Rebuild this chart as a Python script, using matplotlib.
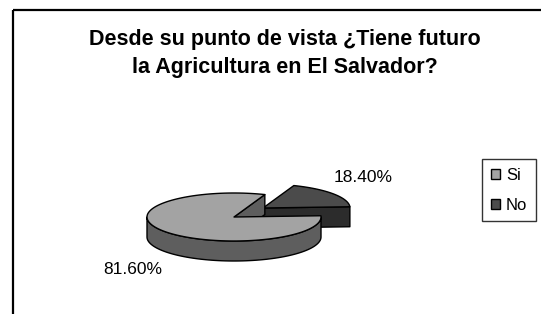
import numpy as np
import matplotlib.pyplot as plt
from matplotlib.patches import Polygon, Rectangle, Patch

plt.rcParams['font.family'] = ['Liberation Sans', 'DejaVu Sans']

labels = ['Si', 'No']
values = [81.6, 18.4]
pct_text = ['81.60%', '18.40%']
top_colors = ['#a3a3a3', '#4b4b4b']
side_colors = ['#5e5e5e', '#2c2c2c']

# pie geometry in pixels (y axis points down)
cx, cy = 234, 217
rx, ry = 87, 24
depth = 20
start = 3.0            # where the "No" slice starts, degrees ccw from the right
explode = [(0, 0), (29, -9)]


def rim(t, x0, y0, dz=0):
    t = np.radians(t)
    return np.column_stack([x0 + rx * np.cos(t), y0 - ry * np.sin(t) + dz])


def draw_slice(ax, a0, a1, off, top, side):
    x0, y0 = cx + off[0], cy + off[1]
    kw = dict(edgecolor='black', linewidth=1.0, joinstyle='round')
    # outer side wall, only the front half (180..360) is seen
    lo, hi = max(a0, 180), min(a1, 360)
    if hi > lo:
        t = np.linspace(lo, hi, 80)
        pts = np.vstack([rim(t, x0, y0), rim(t[::-1], x0, y0, depth)])
        ax.add_patch(Polygon(pts, closed=True, facecolor=side, **kw))
    # radial cut faces facing the viewer
    for a, sign in ((a0, -1), (a1, 1)):
        normal = np.radians(a + sign * 90)
        if np.sin(normal) < 0:
            p = rim([a], x0, y0)[0]
            pts = [(x0, y0), p, (p[0], p[1] + depth), (x0, y0 + depth)]
            ax.add_patch(Polygon(pts, closed=True, facecolor=side, **kw))
    t = np.linspace(a0, a1, 120)
    pts = np.vstack([[(x0, y0)], rim(t, x0, y0)])
    ax.add_patch(Polygon(pts, closed=True, facecolor=top, **kw))


fig = plt.figure(figsize=(5.41, 3.14), dpi=100)
ax = fig.add_axes([0, 0, 1, 1])
ax.set_xlim(0, 541)
ax.set_ylim(314, 0)
ax.axis('off')

ax.add_patch(Rectangle((13, 10), 700, 500, fill=False, edgecolor='black', linewidth=1.6))

ang = np.cumsum([0] + values[::-1]) / 100 * 360 + start
# No slice sits behind, draw it first
draw_slice(ax, ang[0], ang[1], explode[1], top_colors[1], side_colors[1])
draw_slice(ax, ang[1], ang[2], explode[0], top_colors[0], side_colors[0])

ax.text(133, 270, pct_text[0], fontsize=12.5, ha='center', va='center')
ax.text(363, 177, pct_text[1], fontsize=12.5, ha='center', va='center')

ax.text(285, 39, 'Desde su punto de vista ¿Tiene futuro', fontsize=15.5,
        fontweight='bold', ha='center', va='center')
ax.text(285, 68, 'la Agricultura en El Salvador?', fontsize=15.5,
        fontweight='bold', ha='center', va='center')

handles = [Patch(facecolor=c, edgecolor='black', linewidth=1.0) for c in top_colors]
leg = ax.legend(handles, labels, loc='center', bbox_to_anchor=(509 / 541, 1 - 190 / 314),
                bbox_transform=fig.transFigure, fontsize=12, frameon=True, fancybox=False,
                handlelength=0.55, handleheight=0.55, handletextpad=0.35,
                labelspacing=0.9, borderpad=0.5, borderaxespad=0)
leg.get_frame().set_edgecolor('black')
leg.get_frame().set_linewidth(1.0)

fig.savefig('out.png', dpi=100)
